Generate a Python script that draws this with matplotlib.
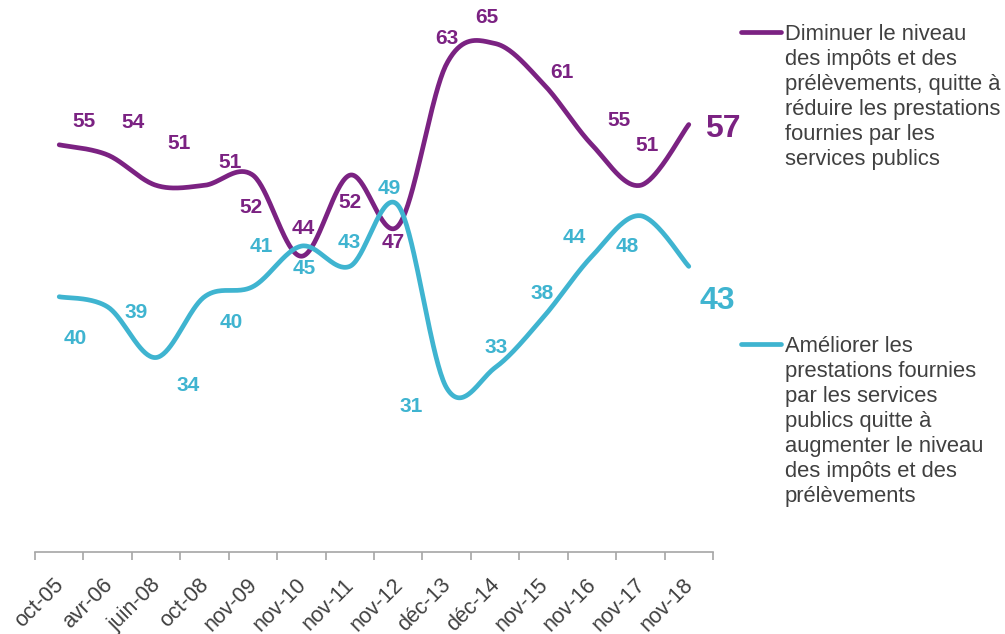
import numpy as np
import matplotlib
matplotlib.use("Agg")
import matplotlib.pyplot as plt
from matplotlib.lines import Line2D
from matplotlib.transforms import ScaledTranslation

# ---- data ----
categories = ["oct-05", "avr-06", "juin-08", "oct-08", "nov-09", "nov-10", "nov-11",
              "nov-12", "déc-13", "déc-14", "nov-15", "nov-16", "nov-17", "nov-18"]
diminuer = [55, 54, 51, 51, 52, 44, 52, 47, 63, 65, 61, 55, 51, 57]
ameliorer = [40, 39, 34, 40, 41, 45, 43, 49, 31, 33, 38, 44, 48, 43]

label_diminuer = "Diminuer le niveau\ndes impôts et des\nprélèvements, quitte à\nréduire les prestations\nfournies par les\nservices publics"
label_ameliorer = "Améliorer les\nprestations fournies\npar les services\npublics quitte à\naugmenter le niveau\ndes impôts et des\nprélèvements"

# label offsets (pixels, x right, y down) - layout only
off_dim = [(25, -23), (25, -32), (23, -42), (26, -23), (-2, 32), (2, -28), (0, 27),
           (-5, 17), (0, -25), (-8, -26), (18, -12), (27, -24), (7, -40), (34, 4)]
off_ame = [(16, 42), (28, 6), (32, 28), (27, 26), (8, -40), (3, 22), (-1, -24),
           (-9, -17), (-35, 19), (1, -20), (-1, -24), (-18, -19), (-13, 31), (28, 35)]

PURPLE = "#7B2282"
CYAN = "#3FB4D0"
TEXT = "#404040"
AXIS = "#A6A6A6"

plt.rcParams['font.family'] = ['Liberation Sans', 'DejaVu Sans']


def smooth(xs, ys, n=40):
    """Excel-style smoothed line (Catmull-Rom as cubic Bezier)."""
    P = np.column_stack([xs, ys]).astype(float)
    out = []
    m = len(P)
    for i in range(m - 1):
        p0 = P[i - 1] if i > 0 else P[i]
        p1 = P[i]
        p2 = P[i + 1]
        p3 = P[i + 2] if i + 2 < m else P[i + 1]
        c1 = p1 + (p2 - p0) / 6.0
        c2 = p2 - (p3 - p1) / 6.0
        t = np.linspace(0, 1, n, endpoint=(i == m - 2))[:, None]
        seg = ((1 - t) ** 3) * p1 + 3 * ((1 - t) ** 2) * t * c1 + 3 * (1 - t) * t ** 2 * c2 + t ** 3 * p2
        out.append(seg)
    out = np.vstack(out)
    return out[:, 0], out[:, 1]


W, H = 1005, 634
fig = plt.figure(figsize=(W / 100, H / 100), dpi=100)
ax = fig.add_axes([35 / W, 1 - 552 / H, (713 - 35) / W, (552 - 3) / H])

x = np.arange(len(categories))
for vals, col, offs in [(diminuer, PURPLE, off_dim), (ameliorer, CYAN, off_ame)]:
    sx, sy = smooth(x, vals)
    ax.plot(sx, sy, color=col, lw=3.4, solid_capstyle='round', zorder=3)
    last = len(vals) - 1
    for i, v in enumerate(vals):
        big = (i == last)
        ax.annotate(f"{v}", (x[i], v), xytext=(offs[i][0], -offs[i][1]),
                    textcoords='offset pixels', ha='center', va='center',
                    color=col, fontweight='bold', fontsize=23 if big else 15,
                    zorder=4)

ax.set_xlim(-0.5, len(categories) - 0.5)
ax.set_ylim(14.8, 69)
for s in ['top', 'right', 'left']:
    ax.spines[s].set_visible(False)
ax.spines['bottom'].set_color(AXIS)
ax.spines['bottom'].set_linewidth(1.2)
ax.set_yticks([])
ax.set_xticks(np.arange(-0.5, len(categories), 1.0))
ax.set_xticklabels([])
ax.tick_params(axis='x', which='major', length=6, width=1.2, color=AXIS)
ax.set_xticks(x, minor=True)
ax.set_xticklabels(categories, minor=True, rotation=45, ha='right', va='top',
                   rotation_mode='anchor', fontsize=15.5, color=TEXT)
ax.tick_params(axis='x', which='minor', length=0, pad=16)
shift = ScaledTranslation(-6 / 100, 0, fig.dpi_scale_trans)
for lab in ax.get_xticklabels(minor=True):
    lab.set_transform(lab.get_transform() + shift)

# legend (manual, right side)
for ly, top, col, txt in [(32, 24, PURPLE, label_diminuer), (344, 336, CYAN, label_ameliorer)]:
    fig.add_artist(Line2D([741 / W, 781 / W], [1 - ly / H, 1 - ly / H], color=col,
                          lw=3.4, solid_capstyle='round', transform=fig.transFigure))
    fig.text(785 / W, 1 - top / H, txt, ha='left', va='top', fontsize=15.8,
             color=TEXT, linespacing=1.25)

fig.savefig("out.png", dpi=100)
